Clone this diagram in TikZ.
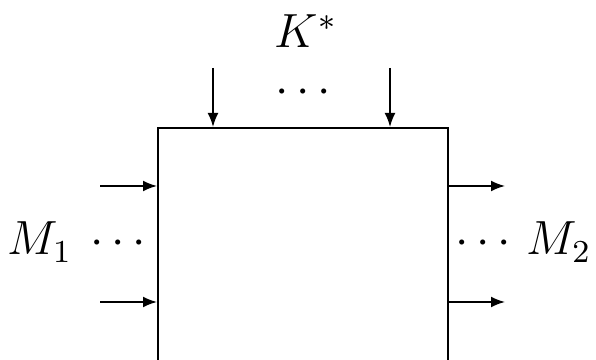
\documentclass[tikz,border=0pt]{standalone}
\usepackage{amsmath}
\usetikzlibrary{arrows.meta,positioning,calc}
\tikzset{
  blk/.style={rectangle,draw,line width=0.45pt,inner sep=0pt,
              minimum width=72.5pt,minimum height=80pt,anchor=north west},
  arr/.style={-{Latex[length=3.5pt,width=2.7pt]},line width=0.4pt},
  lbl/.style={font=\fontsize{11.5}{14}\selectfont,inner sep=0pt,anchor=base},
  dts/.style={font=\fontsize{12.5}{14}\selectfont,inner sep=0pt,anchor=base}
}
\begin{document}
\begin{tikzpicture}[x=0.25pt,y=-0.25pt]
  \clip (0,0) rectangle (596,360);
  \node[blk] (box) at (157,127) {};

  % inputs from above
  \node[lbl] (kstar) at (306,48) {$K^*$};
  \node[dts] (kdots) at (307,104) {$\cdots$};
  \coordinate (k1) at (213,68);
  \coordinate (k2) at (390,68);
  \draw[arr] (k1) -- (k1 |- box.north);
  \draw[arr] (k2) -- (k2 |- box.north);

  % inputs from the left
  \node[lbl] (mone) at (40,255) {$M_1$};
  \node[dts] (ldots) at (122,255) {$\cdots$};
  \coordinate (l1) at (100,186);
  \coordinate (l2) at (100,302);
  \draw[arr] (l1) -- (l1 -| box.west);
  \draw[arr] (l2) -- (l2 -| box.west);

  % outputs to the right
  \node[lbl] (mtwo) at (559,255) {$M_2$};
  \node[dts] (rdots) at (487,255) {$\cdots$};
  \coordinate (r1) at (505,186);
  \coordinate (r2) at (505,302);
  \draw[arr] (r1 -| box.east) -- (r1);
  \draw[arr] (r2 -| box.east) -- (r2);
\end{tikzpicture}
\end{document}
